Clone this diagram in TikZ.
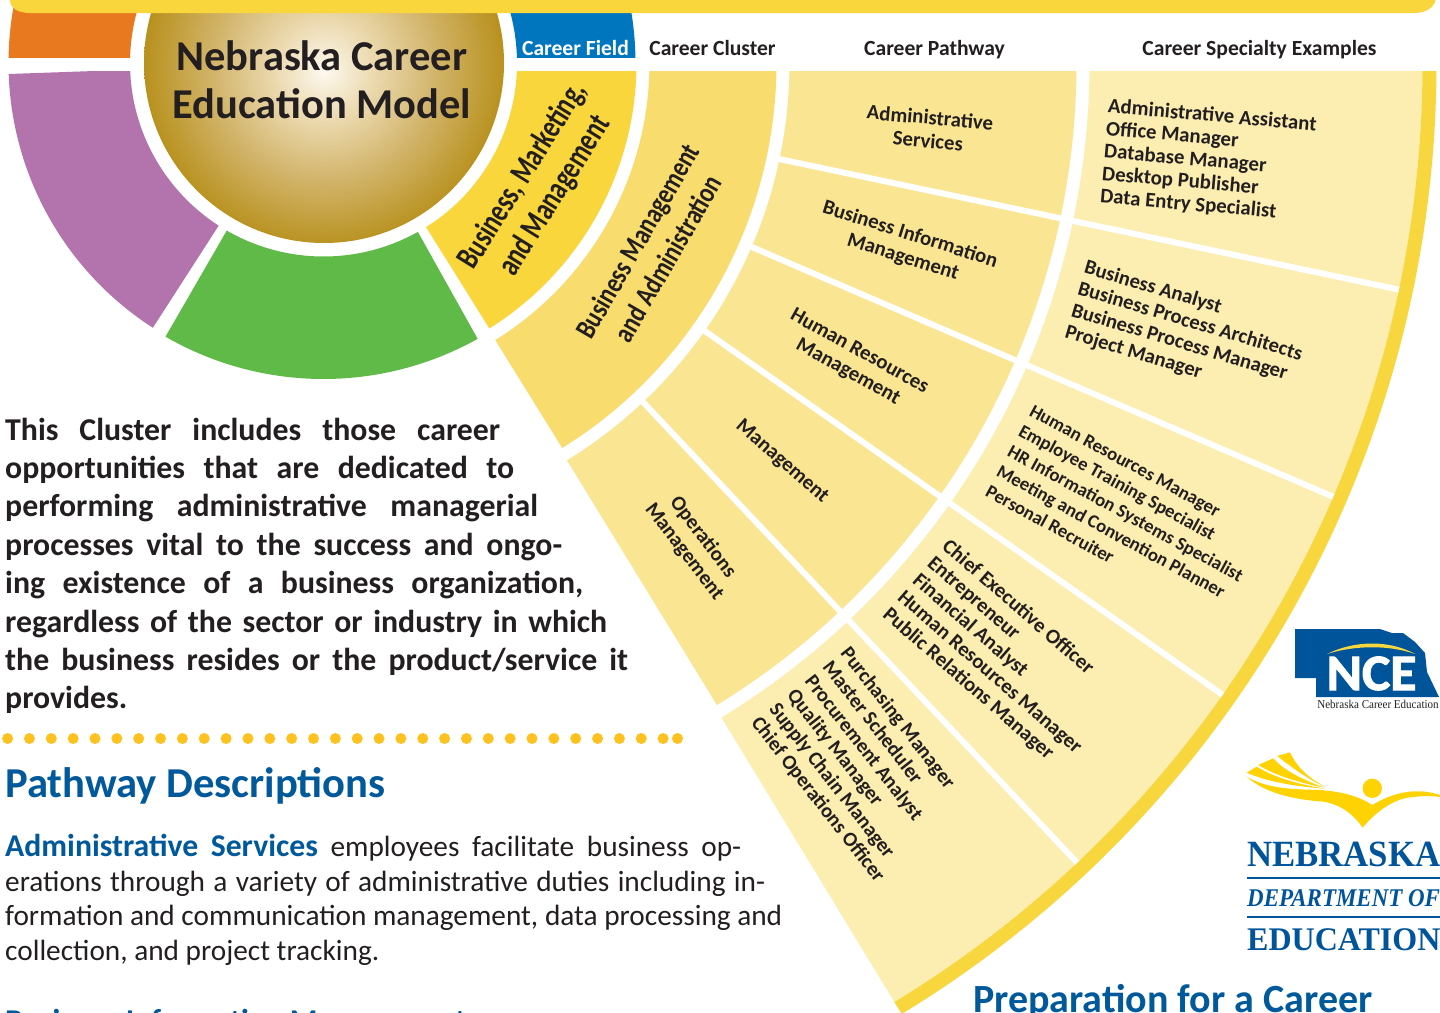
\documentclass[tikz,border=0pt]{standalone}
\usepackage{fontspec}
\setmainfont{Carlito}
\newfontfamily\serifface{Liberation Serif}
\newfontfamily\serifA[FakeStretch=0.92]{Liberation Serif}
\newfontfamily\serifB[FakeStretch=0.94]{Liberation Serif}
\newfontfamily\serifC[FakeStretch=0.90]{Liberation Serif}
\newfontfamily\serifD[FakeStretch=0.97]{Liberation Serif}
\newfontfamily\condA[FakeStretch=0.75]{Carlito}
\newfontfamily\condB[FakeStretch=0.805]{Carlito}
\newfontfamily\ncefont[FakeStretch=1.05,BoldFeatures={FakeBold=2}]{Carlito}
\definecolor{barY}{HTML}{F9D73C}
\definecolor{fieldY}{HTML}{F9D63B}
\definecolor{clusterY}{HTML}{F9DC6E}
\definecolor{pathY}{HTML}{FAE593}
\definecolor{specY}{HTML}{FCEDB1}
\definecolor{bandY}{HTML}{F7D63E}
\definecolor{fBlue}{HTML}{0076BF}
\definecolor{fOrange}{HTML}{E9791F}
\definecolor{fPurple}{HTML}{B374AE}
\definecolor{fGreen}{HTML}{60BA47}
\definecolor{txtBlue}{HTML}{00599A}
\definecolor{logoBlue}{HTML}{00559A}
\definecolor{dotY}{HTML}{FDC220}
\definecolor{swoosh}{HTML}{FFD204}
\definecolor{ink}{HTML}{231F20}
\definecolor{g0}{HTML}{FDF9EF}
\definecolor{g1}{HTML}{EBD9AE}
\definecolor{g2}{HTML}{D3B66E}
\definecolor{g3}{HTML}{B8911E}
\pgfdeclareradialshading{goldball}{\pgfpoint{0bp}{-1.2bp}}{color(0bp)=(g0);color(7bp)=(g1);color(15bp)=(g2);color(25bp)=(g3);color(50bp)=(g3)}
\newcommand{\sect}[5]{\fill[#5] (#3:#1) arc[start angle=#3,end angle=#4,radius=#1] -- (#4:#2) arc[start angle=#4,end angle=#3,radius=#2] -- cycle;}
\newcommand{\jl}[2]{\hbox to #1pt{\spaceskip=.2em plus 1fil minus .1em #2\unskip}}
\tikzset{
 heading/.style={font=\fontsize{21.6}{21}\bfseries\selectfont,text=ink,inner sep=0pt,anchor=base},
 gap/.style={draw=white,line width=6pt},
 ringlabel/.style={text=ink,inner sep=0pt,align=center},
 pathlabel/.style={ringlabel,font=\fontsize{20.8}{23.5}\bfseries\selectfont},
 speclabel/.style={text=ink,inner sep=0pt,align=left,anchor=west,font=\fontsize{20.8}{22.6}\bfseries\selectfont},
 bluehead/.style={text=txtBlue,inner sep=0pt,anchor=base west,font=\fontsize{42.6}{40}\bfseries\selectfont},
}
\begin{document}
\begin{tikzpicture}[x=1pt,y=-1pt]
\useasboundingbox (0,0) rectangle (1440,1012);
\fill[white] (0,0) rectangle (1440,1012);
\begin{scope}[shift={(323.5,63)}]
 % strips above the header gap
 \begin{scope}
  \clip (-323.5,-63) rectangle (1200,-6);
  \sect{193.5}{315}{150}{210}{fOrange}
  \sect{193.5}{312}{-30}{30}{fBlue}
 \end{scope}
 % rings below the header gap
 \begin{scope}
  \clip (-323.5,8) rectangle (1200,950);
  \sect{193.5}{315}{122.8}{178}{fPurple}
  \sect{193.5}{313}{1}{58}{fieldY}
  \sect{326}{453}{0}{58.2}{clusterY}
  \sect{466}{753}{0}{58.5}{pathY}
  \sect{766}{1099}{0}{58.7}{specY}
  \sect{1099}{1113}{0}{58.7}{bandY}
 \end{scope}
 \sect{193.5}{316}{60.8}{120}{fGreen}
 % dividers
 \foreach \a/\n in {11.9/1,23.25/2,35.1/3,46.7/4}{
  \coordinate (pa\n) at (\a:463);
  \coordinate (pb\n) at (\a:756);
  \coordinate (sa\n) at (\a:763);
  \coordinate (sb\n) at (\a:1099);
  \draw[gap] (pa\n) -- (pb\n);
  \draw[gap] (sa\n) -- (sb\n);
 }
\end{scope}
% disc
\shade[shading=goldball] (324,63) circle[radius=180];
% top bar
\fill[barY] (10,-20) -- (10,0) .. controls (10,8) and (18,13) .. (30,13) -- (1414,13) .. controls (1428,13) and (1436,6) .. (1436,-4) -- (1436,-20) -- cycle;
% titles
\node[ringlabel,font=\fontsize{42.5}{48}\bfseries\selectfont] (title) at (322,79.5) {Nebraska Career\\Education Model};
\node[heading,text=white] (hfield) at (575.5,55) {Career Field};
\node[heading] (hcluster) at (712.5,55) {Career Cluster};
\node[heading] (hpath) at (934.5,55) {Career Pathway};
\node[heading] (hspec) at (1259.5,55) {Career Specialty Examples};
% ring labels
\node[ringlabel,rotate=58,font=\condA\fontsize{33}{38}\bfseries\selectfont] (field) at (539,186) {Business, Marketing,\\and Management};
\node[ringlabel,rotate=60,font=\condB\fontsize{29}{35}\bfseries\selectfont] (cluster) at (652.5,249.5) {Business Management\\and Administration};
\node[pathlabel,rotate=-5] (p1) at (929,129) {Administrative\\Services};
\node[pathlabel,rotate=-17.5] (p2) at (906.5,246) {Business Information\\Management};
\node[pathlabel,rotate=-29] (p3) at (853.5,362) {Human Resources\\Management};
\node[pathlabel,rotate=-41] (p4) at (782,462) {Management};
\node[pathlabel,rotate=-52.5] (p5) at (693.5,544.5) {Operations\\Management};
\node[speclabel,rotate=-5] (s1) at (1104,152) {Administrative Assistant\\Office Manager\\Database Manager\\Desktop Publisher\\Data Entry Specialist};
\node[speclabel,rotate=-16.5,font=\fontsize{20.6}{22.6}\bfseries\selectfont] (s2) at (1075,300) {Business Analyst\\Business Process Architects\\Business Process Manager\\Project Manager};
\node[speclabel,rotate=-28.6,font=\fontsize{18.8}{23}\bfseries\selectfont] (s3) at (1009,450) {Human Resources Manager\\Employee Training Specialist\\HR Information Systems Specialist\\Meeting and Convention Planner\\Personal Recruiter};
\node[speclabel,rotate=-41] (s4) at (915,578) {Chief Executive Officer\\Entrepreneur\\Financial Analyst\\Human Resources Manager\\Public Relations Manager};
\node[speclabel,rotate=-52,font=\fontsize{20.4}{22.6}\bfseries\selectfont] (s5) at (799.5,685) {Purchasing Manager\\Master Scheduler\\Procurement Analyst\\Quality Manager\\Supply Chain Manager\\Chief Operations Officer};
% cluster paragraph
\node[anchor=north west,inner sep=0pt,text=ink] (intro) at (5,417.5) {\vbox{\fontsize{31.8}{38.4}\bfseries\selectfont\baselineskip=38.4pt
 \jl{495}{This Cluster includes those career}
 \jl{509}{opportunities that are dedicated to}
 \jl{533}{performing administrative managerial}
 \jl{557}{processes vital to the success and ongo-}
 \jl{578}{ing existence of a business organization,}
 \jl{602}{regardless of the sector or industry in which}
 \jl{623}{the business resides or the product/service it}
 \hbox{provides.}}};
% dots
\foreach \k in {0,...,30}{\fill[dotY] ({7.6+21.85*\k},738.5) circle[radius=5.5];}
\fill[dotY] (677.5,738.5) circle[radius=5.5];
% pathway descriptions
\node[bluehead] (pd) at (5,797) {Pathway Descriptions};
\node[anchor=north west,inner sep=0pt,text=ink] (desc) at (5,834) {\vbox{\fontsize{29.3}{34.6}\selectfont\baselineskip=34.6pt
 \jl{736}{\textcolor{txtBlue}{\fontsize{31.7}{34.6}\selectfont\bfseries Administrative Services} employees facilitate business op-}
 \jl{760}{erations through a variety of administrative duties including in-}
 \jl{777}{formation and communication management, data processing and}
 \hbox{collection, and project tracking.}}};
\node[anchor=base west,inner sep=0pt,text=txtBlue,font=\fontsize{31.7}{34}\bfseries\selectfont] (bim) at (5,1031.5) {Business Information Management};
\node[bluehead,font=\fontsize{40}{38}\bfseries\selectfont] (prep) at (973,1012) {Preparation for a Career};
% NCE logo
\fill[logoBlue] (1295,629) -- (1380,629) -- (1392,633) -- (1403,633) -- (1415,642) -- (1425,653) -- (1427,672) -- (1439,697) -- (1316,697) -- (1316,678) -- (1295,678) -- cycle;
\fill[bandY] (1327,654) .. controls (1355,640) and (1390,640) .. (1415,654) .. controls (1390,645) and (1355,645) .. (1327,654) -- cycle;
\node[text=white,inner sep=0pt,anchor=base,font=\ncefont\fontsize{51}{46}\bfseries\selectfont] (nce) at (1371.5,690) {NCE};
\node[inner sep=0pt,anchor=base,text=ink,font=\serifA\fontsize{12}{13}\selectfont] (ncet) at (1378,708.5) {Nebraska Career Education};
% NDE logo
\begin{scope}[shift={(1040,600)},x=0.3333pt,y=-0.3333pt]
 \fill[swoosh] (750,457) -- (712,468) .. controls (770,515) and (820,545) .. (858,562) .. controls (800,530) and (770,500) .. (750,457) -- cycle;
 \fill[swoosh] (700,475) -- (655,495) .. controls (710,530) and (790,550) .. (852,563) .. controls (780,535) and (730,510) .. (700,475) -- cycle;
 \fill[swoosh] (650,500) -- (620,518) .. controls (680,545) and (770,560) .. (855,566) .. controls (760,550) and (700,530) .. (650,500) -- cycle;
 \fill[swoosh] (620,530) .. controls (680,585) and (780,600) .. (850,605) .. controls (910,615) and (945,650) .. (968,683) .. controls (1000,645) and (1050,600) .. (1110,592) .. controls (1150,587) and (1180,588) .. (1200,591) -- (1200,585) .. controls (1150,568) and (1080,565) .. (997,615) .. controls (950,585) and (900,575) .. (840,570) .. controls (750,568) and (680,565) .. (620,530) -- cycle;
 \fill[swoosh] (997,565) circle[radius=29];
\end{scope}
\node[inner sep=0pt,anchor=base west,text=logoBlue,font=\serifB\fontsize{37}{37}\bfseries\selectfont] (nb) at (1247,866) {NEBRASKA};
\draw[logoBlue,line width=2pt] (1247,878) -- (1440,878);
\node[inner sep=0pt,anchor=base west,text=logoBlue,font=\serifC\fontsize{25.5}{24}\bfseries\itshape\selectfont] (dp) at (1247,906) {DEPARTMENT OF};
\draw[logoBlue,line width=2pt] (1247,917) -- (1440,917);
\node[inner sep=0pt,anchor=base west,text=logoBlue,font=\serifD\fontsize{33}{33}\bfseries\selectfont] (ed) at (1247,950) {EDUCATION};
\end{tikzpicture}
\end{document}
